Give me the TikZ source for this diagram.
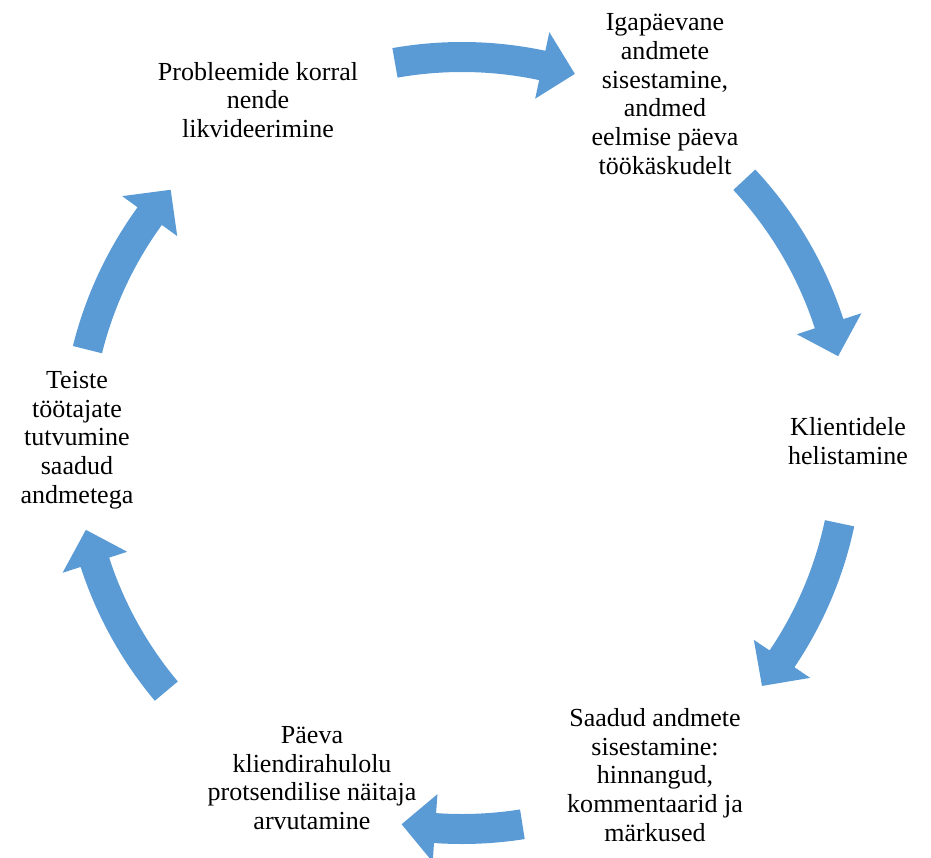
\documentclass[tikz,border=0pt]{standalone}
\usepackage{fontspec}
\setmainfont{Liberation Serif}
\usetikzlibrary{calc}
\definecolor{cycleblue}{HTML}{5B9BD5}
\tikzset{
	stagetext/.style={align=center,inner sep=0pt,font=\fontsize{18.5}{20.4}\selectfont},
	blockarrow/.style={fill=cycleblue,draw=none}
}
% block arrow along the circle: #1 tail angle, #2 tip angle
\newcommand{\cyclearrow}[2]{
	\path[blockarrow] (#1:401) arc[start angle=#1, end angle=#2+5, radius=401]
		-- (#2+5:420) -- (#2:386) -- (#2+5:352) -- (#2+5:371)
		arc[start angle=#2+5, end angle=#1, radius=371] -- cycle;
}

\begin{document}
\begin{tikzpicture}[x=0.025cm,y=0.025cm]
		\useasboundingbox (-462,-414) rectangle (469,443);

		\node[stagetext] (probleemid) at (-204,343) {Probleemide korral\\nende\\likvideerimine};
		\node[stagetext] (igapaev) at (203,349) {Igapäevane\\andmete\\sisestamine,\\andmed\\eelmise päeva\\töökäskudelt};
		\node[stagetext] (helistamine) at (386,2) {Klientidele\\helistamine};
		\node[stagetext] (sisestamine) at (193,-332) {Saadud andmete\\sisestamine:\\hinnangud,\\kommentaarid ja\\märkused};
		\node[stagetext] (arvutamine) at (-150,-335) {Päeva\\kliendirahulolu\\protsendilise näitaja\\arvutamine};
		\node[stagetext] (tutvumine) at (-385,3) {Teiste\\töötajate\\tutvumine\\saadud\\andmetega};

		\foreach \tail/\tip in {100/73, 43/13, -12/-39, -81/-99, 220/193, 166/139}{
			\cyclearrow{\tail}{\tip}
		}
	\end{tikzpicture}
\end{document}
